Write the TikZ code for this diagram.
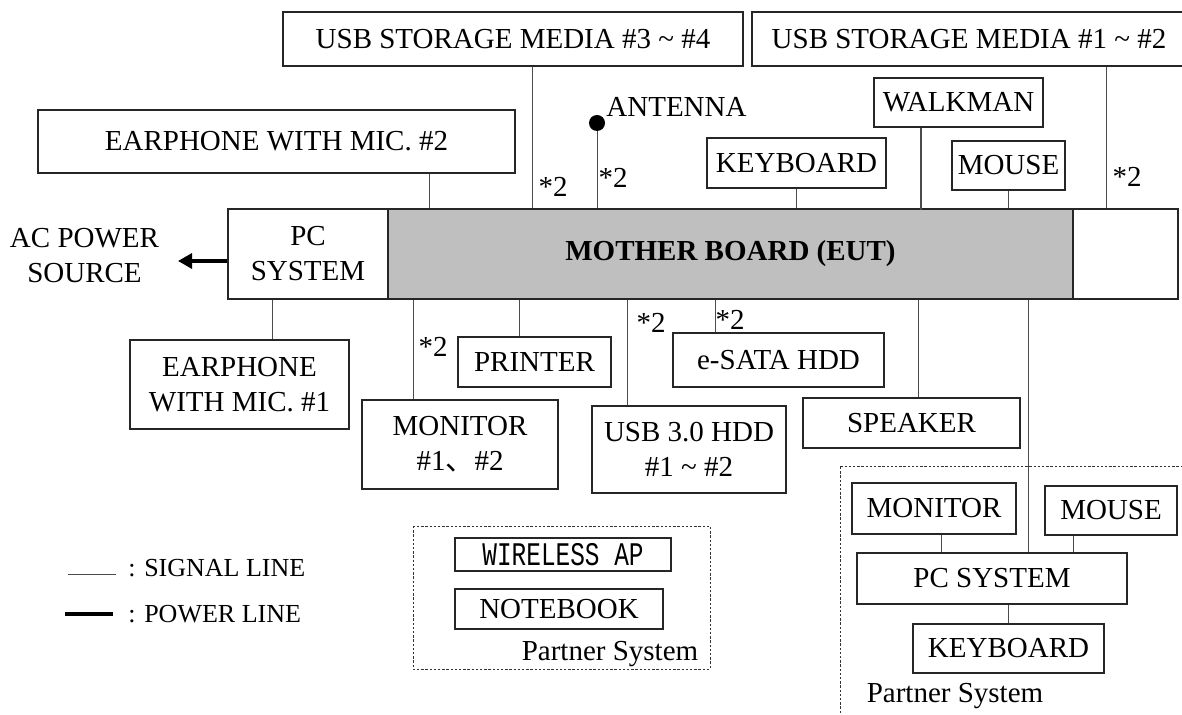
\documentclass[tikz,border=0pt]{standalone}
\usepackage{fontspec}
\setmainfont{Liberation Serif}
\newfontfamily\cjk{Noto Sans CJK SC}
\newfontfamily\apfont[FakeStretch=0.74]{Liberation Mono}
\usepackage{tikz}
\usetikzlibrary{arrows.meta,positioning,calc}
\newcommand{\diagsize}{\fontsize{14.5}{17.5}\selectfont}
\newcommand{\legendsize}{\fontsize{13}{15}\selectfont}
\tikzset{
    every picture/.style={line cap=butt,line join=miter},
    unitbox/.style={draw=black!85,line width=0.6pt,inner sep=0pt,
      align=center,font=\diagsize},
    eutbox/.style={unitbox,fill=black!25,line width=0.7pt,
      font=\diagsize\bfseries},
    partnerframe/.style={draw=black!80,line width=0.5pt,
      dash pattern=on 1.2pt off 0.9pt},
    sigline/.style={draw=black!70,line width=0.5pt},
    powerline/.style={draw=black,line width=1.6pt,
      -{Triangle[length=7pt,width=7.5pt]}},
    tag/.style={font=\diagsize,inner sep=0pt}
}

\begin{document}
\begin{tikzpicture}[x=0.5pt,y=-0.5pt]
  \useasboundingbox (0,0) rectangle (1182,715);
  % EUT and its housing
  \node[unitbox,minimum width=80pt,minimum height=45pt] (pcsys) at (308,254) {PC\\SYSTEM};
  \node[eutbox,minimum width=342.5pt,minimum height=45pt] (board) at (730.5,254) {MOTHER BOARD (EUT)};
  \node[unitbox,minimum width=52.5pt,minimum height=45pt] (rbox) at (1125.5,254) {};
  \node[tag,align=center] (acp) at (84.5,255.5) {AC POWER\\SOURCE};
  % peripherals above
  \node[unitbox,minimum width=230pt,minimum height=27pt] (usbB) at (513,39) {USB STORAGE MEDIA \#3 \textasciitilde{} \#4};
  \node[unitbox,minimum width=217pt,minimum height=27pt] (usbA) at (969,39) {USB STORAGE MEDIA \#1 \textasciitilde{} \#2};
  \node[unitbox,minimum width=238.5pt,minimum height=31.5pt] (ear2) at (276.5,141.5) {EARPHONE WITH MIC. \#2};
  \node[unitbox,minimum width=89.5pt,minimum height=25pt] (kbd) at (796.5,163) {KEYBOARD};
  \node[unitbox,minimum width=84.5pt,minimum height=24.5pt] (walk) at (958.5,102.5) {WALKMAN};
  \node[unitbox,minimum width=56.5pt,minimum height=24.5pt] (mouse) at (1008.5,165.5) {MOUSE};
  \node[circle,fill=black,inner sep=0pt,minimum size=8pt] (dot) at (597,123) {};
  \node[tag,anchor=base west] (ant) at (606,117) {ANTENNA};
  % peripherals below
  \node[unitbox,minimum width=109.5pt,minimum height=44.5pt] (ear1) at (239.5,384.5) {EARPHONE\\WITH MIC. \#1};
  \node[unitbox,minimum width=76.5pt,minimum height=25pt] (prn) at (534.5,362) {PRINTER};
  \node[unitbox,minimum width=98pt,minimum height=44.5pt] (mon) at (460,444.5) {MONITOR\\\#1{\cjk 、}\#2};
  \node[unitbox,minimum width=97pt,minimum height=43.5pt] (hdd) at (689,449.5) {USB 3.0 HDD\\\#1 \textasciitilde{} \#2};
  \node[unitbox,minimum width=105.5pt,minimum height=27pt] (sata) at (778.5,360) {e-SATA HDD};
  \node[unitbox,minimum width=108.5pt,minimum height=25pt] (spk) at (911.5,423) {SPEAKER};
  % quantity marks
  \node[tag,anchor=base] (mUsbB) at (553,197) {*2};
  \node[tag,anchor=base] (mAnt) at (613,188) {*2};
  \node[tag,anchor=base] (mUsbA) at (1127,187) {*2};
  \node[tag,anchor=base] (mMon) at (433,357) {*2};
  \node[tag,anchor=base] (mHdd) at (651,333) {*2};
  \node[tag,anchor=base] (mSata) at (730,330) {*2};
  % partner system 1
  \draw[partnerframe] (413,526) rectangle (710,669);
  \node[unitbox,minimum width=108pt,minimum height=16.5pt,font=\apfont\fontsize{16.5}{18}\selectfont] (wap) at (563,554.5) {WIRELESS AP};
  \node[unitbox,minimum width=104pt,minimum height=20pt] (nb) at (559,609) {NOTEBOOK};
  \node[tag,anchor=base] (ps1) at (610,660) {Partner System};
  % partner system 2
  \draw[partnerframe] (840,467) rectangle (1200,730);
  \node[unitbox,minimum width=82pt,minimum height=25.5pt] (pmon) at (934,508.5) {MONITOR};
  \node[unitbox,minimum width=66pt,minimum height=24.5pt] (pmouse) at (1111,510.5) {MOUSE};
  \node[unitbox,minimum width=135pt,minimum height=25.5pt] (ppc) at (992,578.5) {PC SYSTEM};
  \node[unitbox,minimum width=95.5pt,minimum height=24.5pt] (pkbd) at (1008.5,648.5) {KEYBOARD};
  \node[tag,anchor=base] (ps2) at (955,702) {Partner System};
  % tap points
  \coordinate (tEar2) at (429,0);
  \coordinate (tUsbB) at (532,0);
  \coordinate (tWalk) at (921,0);
  \coordinate (tUsbA) at (1106,0);
  \coordinate (tEar1) at (272,0);
  \coordinate (tMon) at (413,0);
  \coordinate (tPrn) at (519,0);
  \coordinate (tHdd) at (627,0);
  \coordinate (tSata) at (715,0);
  \coordinate (tSpk) at (918,0);
  \coordinate (tPart) at (1028,0);
  \coordinate (tPMon) at (941,0);
  \coordinate (tPMouse) at (1073,0);
  % signal lines
  \draw[sigline] (ear2.south -| tEar2) -- (board.north -| tEar2);
  \draw[sigline] (usbB.south -| tUsbB) -- (board.north -| tUsbB);
  \draw[sigline] (dot) -- (dot |- board.north);
  \draw[sigline] (kbd.south) -- (kbd.south |- board.north);
  \draw[sigline,line width=0.7pt] (walk.south -| tWalk) -- ([yshift=-1pt]board.north -| tWalk);
  \draw[sigline] (mouse.south) -- (mouse.south |- board.north);
  \draw[sigline] (usbA.south -| tUsbA) -- (rbox.north -| tUsbA);
  \draw[sigline] (pcsys.south -| tEar1) -- (ear1.north -| tEar1);
  \draw[sigline] (board.south -| tMon) -- (mon.north -| tMon);
  \draw[sigline] (board.south -| tPrn) -- (prn.north -| tPrn);
  \draw[sigline] (board.south -| tHdd) -- (hdd.north -| tHdd);
  \draw[sigline] (board.south -| tSata) -- (sata.north -| tSata);
  \draw[sigline] (board.south -| tSpk) -- (spk.north -| tSpk);
  \draw[sigline] (board.south -| tPart) -- (ppc.north -| tPart);
  \draw[sigline] (pmon.south -| tPMon) -- (ppc.north -| tPMon);
  \draw[sigline] (pmouse.south -| tPMouse) -- (ppc.north -| tPMouse);
  \draw[sigline] (ppc.south -| pkbd) -- (pkbd.north);
  % power line
  \coordinate (acin) at (178,261);
  \draw[powerline] (pcsys.west |- acin) -- (acin);
  % legend
  \node[tag,font=\legendsize,anchor=base west] (lsig) at (128,576) {: SIGNAL LINE};
  \node[tag,font=\legendsize,anchor=base west] (lpow) at (128,622) {: POWER LINE};
  \draw[sigline] ([xshift=-30pt,yshift=1pt]lsig.base west) -- ([xshift=-6pt,yshift=1pt]lsig.base west);
  \draw[draw=black,line width=1.6pt] ([xshift=-31.5pt,yshift=4pt]lpow.base west) -- ([xshift=-7.5pt,yshift=4pt]lpow.base west);
\end{tikzpicture}
\end{document}
